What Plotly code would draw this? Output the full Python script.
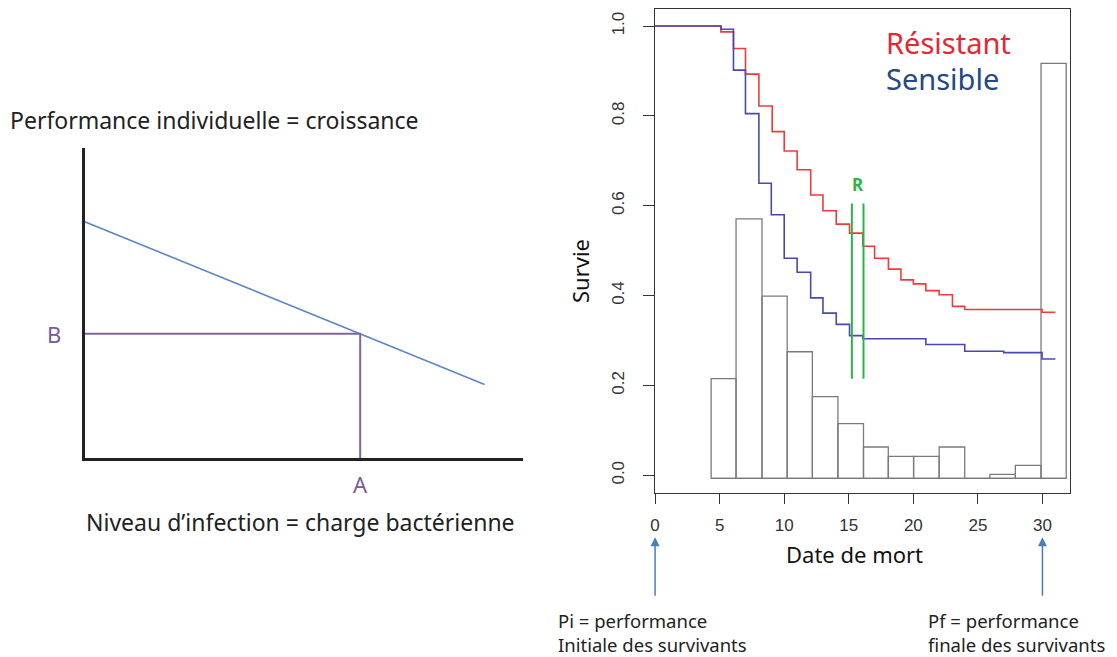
import plotly.graph_objects as go

# ---- left panel: individual performance vs infection level (schematic) ----
charge_line = [0, 9.13]
croissance_line = [7.62, 2.38]
charge_A = 6.29
croissance_B = 4.01

# ---- right panel: survival curves (Kaplan-Meier style steps) ----
t_resistant = [0, 5.1, 6.07, 7.0, 8.04, 9.07, 10.0, 11.0, 12.05, 13.0, 14.03, 15.06,
               16.09, 17.0, 18.07, 19.04, 20.0, 20.97, 22.0, 23.03, 23.98, 29.97, 31.0]
s_resistant = [1.0, 0.987, 0.950, 0.893, 0.822, 0.765, 0.722, 0.680, 0.624, 0.589, 0.559, 0.539,
               0.510, 0.483, 0.459, 0.435, 0.426, 0.411, 0.402, 0.376, 0.369, 0.363, 0.363]

t_sensible = [0, 5.1, 6.07, 7.0, 8.04, 9.0, 10.0, 11.0, 12.05, 13.0, 14.03, 15.06,
              16.09, 20.97, 23.98, 27.0, 29.97, 31.0]
s_sensible = [1.0, 0.993, 0.902, 0.805, 0.650, 0.580, 0.483, 0.452, 0.395, 0.361, 0.336, 0.311,
              0.304, 0.291, 0.276, 0.273, 0.259, 0.259]

# histogram of death dates (drawn on the survival scale)
hist_edges = [4.34, 6.27, 8.28, 10.23, 12.18, 14.16, 16.14, 18.06, 20.02, 22.0, 23.98,
              25.93, 27.9, 29.89, 31.84]
hist_heights = [0.222, 0.578, 0.406, 0.282, 0.182, 0.122, 0.070, 0.049, 0.049, 0.070,
                0.0, 0.009, 0.029, 0.924]
hist_base = -0.007

# the two green "R" markers
r_times = [15.24, 16.14]
r_range = [0.215, 0.605]

x_ticks = [0, 5, 10, 15, 20, 25, 30]
y_ticks = [0.0, 0.2, 0.4, 0.6, 0.8, 1.0]

# page body keeps its 8px margin, so the figure is shrunk and shifted by it
OFF = 8
W, H = 1117 - OFF, 657 - OFF
TXT = "Noto Sans"
R_FONT = "Liberation Sans"


def px_x(p):
    return (p - OFF) / W


def px_y(p):
    return min(1.0, 1 - (p - OFF) / H)


fig = go.Figure()

# left panel
fig.add_trace(go.Scatter(x=charge_line, y=croissance_line, mode='lines',
                         line=dict(color='#5b86c4', width=1.6), xaxis='x', yaxis='y'))
fig.add_trace(go.Scatter(x=[0, charge_A, charge_A], y=[croissance_B, croissance_B, 0],
                         mode='lines', line=dict(color='#8064a2', width=2),
                         xaxis='x', yaxis='y'))

# right panel histogram
centers = [(a + b) / 2 for a, b in zip(hist_edges[:-1], hist_edges[1:])]
widths = [b - a for a, b in zip(hist_edges[:-1], hist_edges[1:])]
fig.add_trace(go.Bar(x=centers, y=hist_heights, width=widths, base=hist_base,
                     marker=dict(color='rgba(0,0,0,0)', line=dict(color='#7a7a7a', width=1.3)),
                     xaxis='x2', yaxis='y2'))
fig.add_trace(go.Scatter(x=[hist_edges[0], hist_edges[-1]], y=[hist_base, hist_base],
                         mode='lines', line=dict(color='#7a7a7a', width=1.3),
                         xaxis='x2', yaxis='y2'))

# survival curves
fig.add_trace(go.Scatter(x=t_resistant, y=s_resistant, mode='lines', line_shape='hv',
                         line=dict(color='#f03a3a', width=1.6), xaxis='x2', yaxis='y2'))
fig.add_trace(go.Scatter(x=t_sensible, y=s_sensible, mode='lines', line_shape='hv',
                         line=dict(color='#4848b0', width=1.6), xaxis='x2', yaxis='y2'))

# green R lines
gx, gy = [], []
for t in r_times:
    gx += [t, t, None]
    gy += [r_range[0], r_range[1], None]
fig.add_trace(go.Scatter(x=gx, y=gy, mode='lines', line=dict(color='#2eb34c', width=2),
                         xaxis='x2', yaxis='y2'))

annotations = [
    dict(text="Performance individuelle = croissance", x=px_x(3), y=px_y(119),
         xref='paper', yref='paper', xanchor='left', yanchor='middle', showarrow=False,
         font=dict(family=TXT, size=23, color='#222')),
    dict(text="Niveau d\u2019infection = charge bact\u00e9rienne", x=px_x(297), y=px_y(522),
         xref='paper', yref='paper', xanchor='center', yanchor='middle', showarrow=False,
         font=dict(family=TXT, size=23, color='#222')),
    dict(text="A", x=charge_A, y=0, xref='x', yref='y', yshift=-26, showarrow=False,
         font=dict(family=TXT, size=22, color='#7a5a9c')),
    dict(text="B", x=0, y=croissance_B, xref='x', yref='y', xshift=-31, showarrow=False,
         font=dict(family=TXT, size=22, color='#7a5a9c')),
    dict(text="R\u00e9sistant", x=px_x(883), y=px_y(42), xref='paper', yref='paper',
         xanchor='left', yanchor='middle', showarrow=False,
         font=dict(family=TXT, size=29, color='#e8262e')),
    dict(text="Sensible", x=px_x(883), y=px_y(78), xref='paper', yref='paper',
         xanchor='left', yanchor='middle', showarrow=False,
         font=dict(family=TXT, size=29, color='#24488a')),
    dict(text="<b>R</b>", x=sum(r_times) / 2, y=r_range[1], xref='x2', yref='y2',
         yshift=19, showarrow=False, font=dict(family=TXT, size=17, color='#2eb34c')),
    dict(text="Survie", x=px_x(577), y=px_y(270), xref='paper', yref='paper', textangle=-90,
         xanchor='center', yanchor='middle',
         showarrow=False, font=dict(family=TXT, size=22, color='#111')),
    dict(text="Date de mort", x=px_x(853), y=px_y(554), xref='paper', yref='paper',
         xanchor='center', yanchor='middle',
         showarrow=False, font=dict(family=TXT, size=22, color='#111')),
    dict(text="Pi = performance<br>Initiale des survivants", x=px_x(553), y=px_y(632),
         xref='paper', yref='paper', xanchor='left', yanchor='middle', align='left',
         showarrow=False, font=dict(family=TXT, size=18.5, color='#222')),
    dict(text="Pf = performance<br>finale des survivants", x=px_x(925), y=px_y(632),
         xref='paper', yref='paper', xanchor='left', yanchor='middle', align='left',
         showarrow=False, font=dict(family=TXT, size=18.5, color='#222')),
]
# blue arrows pointing at the first and last tick
for t in (x_ticks[0], x_ticks[-1]):
    annotations.append(dict(text="", x=t, y=px_y(537), xref='x2', yref='paper',
                            ax=0, ay=60, axref='pixel', ayref='pixel', showarrow=True,
                            arrowhead=2, arrowsize=1.2, arrowwidth=1.5, arrowcolor='#4a7ebb'))

fig.update_layout(
    width=W, height=H, autosize=False,
    margin=dict(l=0, r=0, t=0, b=0),
    paper_bgcolor='white', plot_bgcolor='white',
    showlegend=False,
    annotations=annotations,
    xaxis=dict(domain=[px_x(80), px_x(520)], range=[0, 10], showline=True,
               linecolor='#222', linewidth=3, showgrid=False, zeroline=False,
               showticklabels=False, ticks=''),
    yaxis=dict(domain=[px_y(458), px_y(147)], range=[0, 10], showline=True,
               linecolor='#222', linewidth=3, showgrid=False, zeroline=False,
               showticklabels=False, ticks=''),
    xaxis2=dict(domain=[px_x(653), px_x(1070)], range=[0, 32.15], anchor='y2',
                showline=True, mirror=True, linecolor='#333', linewidth=1,
                showgrid=False, zeroline=False, tickvals=x_ticks, ticks='outside',
                ticklen=10, tickcolor='#333', ticklabelstandoff=6,
                tickfont=dict(family=R_FONT, size=17, color='#333')),
    yaxis2=dict(domain=[px_y(493), px_y(8)], range=[-0.04, 1.038], anchor='x2',
                showline=True, mirror=True, linecolor='#333', linewidth=1,
                showgrid=False, zeroline=False, tickvals=y_ticks, tickformat='.1f',
                ticks='outside', ticklen=11, tickcolor='#333', tickangle=-90,
                ticklabelstandoff=12,
                tickfont=dict(family=R_FONT, size=17, color='#333')),
)

fig.write_html("out.html")
